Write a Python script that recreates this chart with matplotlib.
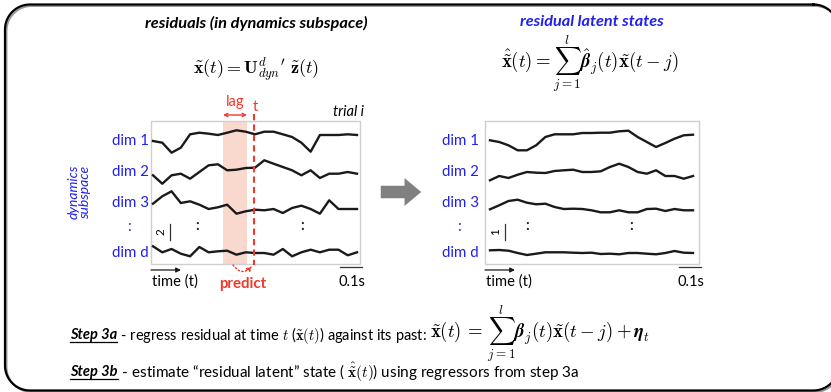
import matplotlib.pyplot as plt
from matplotlib.patches import Rectangle, FancyArrowPatch
import numpy as np

plt.rcParams['font.family'] = ['Lato', 'DejaVu Sans']
plt.rcParams['mathtext.fontset'] = 'cm'

# ── data: traces (amplitude in px, up = positive), 23 samples each ──
dim_labels = ["dim 1", "dim 2", "dim 3", ":", "dim d"]

resid_dim1 = [0, -1.7, -11.7, -6.7, 6.7, 8.3, 7.3, 6, 8.3, 10.7, 9.3, 6.7,
              9.3, 9.3, 6.7, 4, -1.7, -10.7, 6, 6, 6, 6.7, 6]
resid_dim2 = [-3.3, -11.7, -3.3, -1.7, -6.7, 0, 6.7, 7.7, 1.7, 2.3, 4, 4.3,
              11.7, 8.3, 5, 1.7, -3.3, 1.7, -6, -1.7, -1.7, 0, -1.7]
resid_dim3 = [-0.7, 6.7, 11.7, 0, 1.7, -1.7, -6, -4.3, -1.7, -10.7, -8.3, -6.7,
              -7.3, -6, -10, -5, -2.7, -6, -10.7, 2.7, -6, -6, -6]
resid_dimd = [6.7, 0.7, 4, -0.7, -3.3, 6, 0.7, 1.7, 2.3, -1.7, 0.7, 0,
              0, -1.7, 4, -3.3, 0.7, 3.3, 0.7, 3.3, 3.3, -2.3, 0.7]

latent_dim1 = [0.7, -1, -4.3, -9.3, -9.3, -4.3, 4, 6.7, 6.7, 6.7, 8, 8,
               8.3, 8.3, 9.7, 10.3, 4, -1, -6, -2, 2.3, 5.7, 6.3]
latent_dim2 = [-8.3, -4, -6, -2.7, 0, -0.7, -1, 1, 1.7, 2.3, 0, 0,
               0.7, 5, 8.3, 5, 0, -1.7, 1.7, -4, -4, -6.7, -4]
latent_dim3 = [-6.3, -2.3, 2, 3.3, 0.3, -1.3, -0.7, -4, -6, -5.7, -6, -7.3,
               -9.3, -9.3, -7.3, -9.3, -9.3, -6, -5.7, -8, -6, -7.3, -7.3]
latent_dimd = [2.7, 3, 2.3, 0, -2, -0.7, 0.7, 0.7, 0.7, 0.3, 0, 0.3,
               -1, -0.7, -1.3, 0, 0, -0.7, -1.3, 0, 2, 0.3, 0]

BLUE = '#2020f0'
RED = '#ee3a2c'

fig = plt.figure(figsize=(8.31, 3.92), dpi=100)
ax = fig.add_axes([0, 0, 1, 1])
ax.set_xlim(0, 831)
ax.set_ylim(392, 0)
ax.axis('off')


def rounded_rect(x0, y0, x1, y1, r):
    th = np.linspace(0, np.pi / 2, 20)
    pts = []
    for cx, cy, a0 in [(x1 - r, y0 + r, -np.pi / 2), (x1 - r, y1 - r, 0),
                       (x0 + r, y1 - r, np.pi / 2), (x0 + r, y0 + r, np.pi)]:
        pts.append(np.column_stack([cx + r * np.cos(a0 + th), cy + r * np.sin(a0 + th)]))
    pts = np.vstack(pts + [pts[0][:1]])
    return pts[:, 0], pts[:, 1]


# outer rounded frame (runs off the right edge)
fx, fy = rounded_rect(6.5, 6, 840, 392, 25)
ax.plot(fx, fy, color='#9a9a9a', lw=1.4, zorder=1)
fx, fy = rounded_rect(5, 4.5, 838.5, 390.5, 25)
ax.plot(fx, fy, color='black', lw=1.6, zorder=2)

rows_y = [141, 172, 203, 227, 253]


def panel(x0, x1, tx0, tx1, traces, label_right, scale_txt, scale_x, dots_x):
    ax.add_patch(Rectangle((x0, 121), x1 - x0, 143, fc='none', ec='#cfcfcf', lw=1, zorder=3))
    xs = np.linspace(tx0, tx1, len(traces[0]))
    for tr, yy in zip(traces, [rows_y[0], rows_y[1], rows_y[2], rows_y[4]]):
        ax.plot(xs, yy - np.array(tr), color='#1a1a1a', lw=1.7, zorder=5)
    for lab, yy in zip(dim_labels, rows_y):
        ax.text(label_right if lab != ":" else label_right - 18, yy, lab, color=BLUE,
                fontsize=10.8, ha='right', va='center')
    # colons inside panel
    for dx in dots_x:
        ax.text(dx, 226, ":", fontsize=10.5, fontweight='bold', ha='center', va='center',
                color='#1a1a1a')
    # vertical scale bar
    ax.plot([scale_x, scale_x], [224, 240], color='#333333', lw=0.9)
    ax.text(scale_x - 9, 232, scale_txt, rotation=90, fontsize=8.5, ha='center', va='center')
    # time arrow
    ax.annotate("", xy=(x0 + 30, 270), xytext=(x0, 270),
                arrowprops=dict(arrowstyle='-|>', color='#1a1a1a', lw=0.9,
                                mutation_scale=7, shrinkA=0, shrinkB=0))
    ax.text(x0 + 1, 282, "time (t)", fontsize=10.6, ha='left', va='center')
    # 0.1 s bar
    ax.plot([x1 - 20, x1 + 2], [267, 267], color='#333333', lw=0.9)
    ax.text(x1 - 8, 282, "0.1s", fontsize=10.5, ha='center', va='center')


# left panel: residuals
ax.add_patch(Rectangle((223, 121), 24, 143, fc='#f8cfc2', ec='none', alpha=0.8, zorder=2))
panel(151, 360, 153, 357, [resid_dim1, resid_dim2, resid_dim3, resid_dimd],
      149, "2", 170, [197, 302])
ax.plot([254, 254], [114, 265], color=RED, lw=1.5, ls=(0, (3, 2)), zorder=6)
ax.annotate("", xy=(223, 115), xytext=(247, 115),
            arrowprops=dict(arrowstyle='<->', color=RED, lw=1.0, mutation_scale=6,
                            shrinkA=0, shrinkB=0))
ax.text(235, 102, "lag", color=RED, fontsize=10.5, ha='center', va='center')
ax.text(255, 107, "t", color=RED, fontsize=10.5, ha='center', va='center')
ax.text(364, 112, "trial i", fontsize=10.5, ha='right', va='center', style='italic')
ax.annotate("", xy=(252, 266), xytext=(233, 265),
            arrowprops=dict(arrowstyle='-|>', color=RED, lw=1.0, ls=':', mutation_scale=7,
                            connectionstyle='arc3,rad=0.6', shrinkA=0, shrinkB=0))
ax.text(243, 284, "predict", color=RED, fontsize=10.8, fontweight='bold', ha='center', va='center')
ax.text(79, 192, "dynamics\nsubspace", color=BLUE, fontsize=10, style='italic',
        rotation=90, ha='center', va='center', linespacing=0.95)

# right panel: residual latent states
panel(485, 699, 490, 693, [latent_dim1, latent_dim2, latent_dim3, latent_dimd],
      479, "1", 505, [527, 631])

# big grey arrow
ax.add_patch(FancyArrowPatch((378, 192), (424, 192),
                             arrowstyle='simple,head_length=12,head_width=20,tail_width=9',
                             mutation_scale=1, fc='#808080', ec='none'))

# titles and formulas
ax.text(256, 23, "residuals (in dynamics subspace)", fontsize=11.8, fontweight='bold',
        style='italic', ha='center', va='center')
ax.text(592, 22, "residual latent states", fontsize=11.7, fontweight='bold',
        style='italic', color=BLUE, ha='center', va='center')
ax.text(256, 69, r"$\tilde{\mathbf{x}}(t) = \mathbf{U}^{d}_{dyn}{}^{\prime}\ \tilde{\mathbf{z}}(t)$",
        fontsize=13, ha='center', va='center')
ax.text(590, 64, r"$\hat{\tilde{\mathbf{x}}}(t) = \sum_{j=1}^{l}\hat{\boldsymbol{\beta}}_{j}(t)\tilde{\mathbf{x}}(t-j)$",
        fontsize=13.5, ha='center', va='center')

# bottom steps
fig.canvas.draw()
rend = fig.canvas.get_renderer()


def put(x, y, s, **kw):
    t = ax.text(x, y, s, va='center', ha='left', **kw)
    bb = t.get_window_extent(rend)
    return bb.x0, bb.x1


steps = [(335, "Step 3a", " - regress residual at time $t$ ($\\tilde{\\mathbf{x}}(t)$) against its past: ", 10.5),
         (372, "Step 3b", " - estimate \u201cresidual latent\u201d state ( $\\hat{\\tilde{\\mathbf{x}}}(t)$) using regressors from step 3a", 11)]
for yy, step, rest, fs in steps:
    a, b = put(70, yy, step, fontsize=10.5, fontweight='bold', style='italic')
    ax.plot([a, b], [yy + 7, yy + 7], color='black', lw=0.9)
    c, d = put(b, yy, rest, fontsize=fs)
    if step == "Step 3a":
        put(d + 2, yy - 1, r"$\tilde{\mathbf{x}}(t)\,=\,\sum_{j=1}^{l}\boldsymbol{\beta}_{j}(t)\tilde{\mathbf{x}}(t-j) + \boldsymbol{\eta}_{t}$",
            fontsize=13.5)

plt.savefig("out.png", dpi=100)
